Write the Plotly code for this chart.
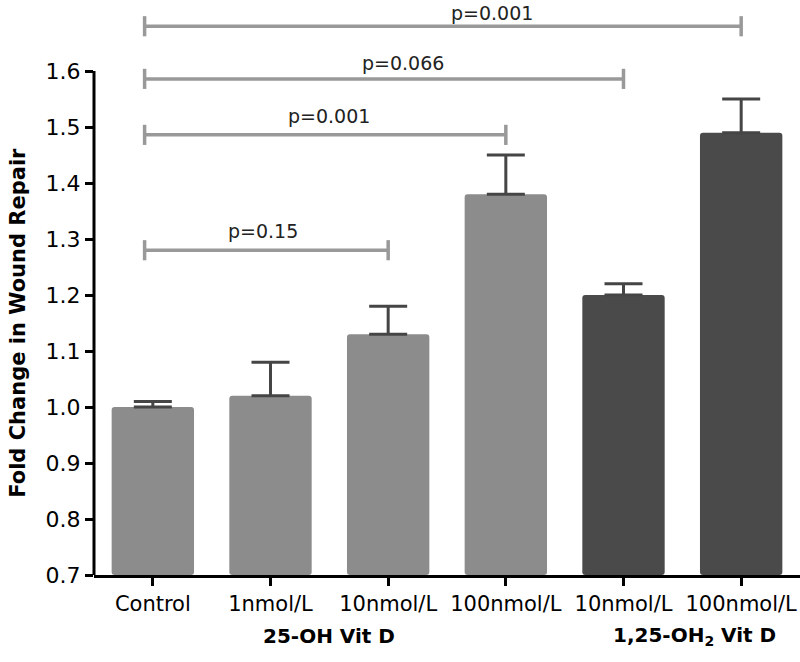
import plotly.graph_objects as go

categories = ["Control", "1nmol/L", "10nmol/L", "100nmol/L", "10nmol/L", "100nmol/L"]
fold_change = [1.00, 1.02, 1.13, 1.38, 1.20, 1.49]
sem = [0.01, 0.06, 0.05, 0.07, 0.02, 0.06]
bar_colors = ["#8c8c8c", "#8c8c8c", "#8c8c8c", "#8c8c8c", "#4a4a4a", "#4a4a4a"]

# significance brackets: start index, end index, height, label
bracket_start = [0, 0, 0, 0]
bracket_end = [5, 4, 3, 2]
bracket_y = [1.68, 1.586, 1.486, 1.28]
bracket_text = ["p=0.001", "p=0.066", "p=0.001", "p=0.15"]
text_x = [2.88, 2.13, 1.5, 0.94]
text_y = [1.703, 1.614, 1.52, 1.314]

group_labels = ["<b>25-OH Vit D</b>", "<b>1,25-OH<sub>2</sub> Vit D</b>"]
group_x = [1.5, 4.6]

xs = list(range(len(categories)))
font_family = "DejaVu Sans, Arial, sans-serif"

fig = go.Figure()
fig.add_trace(go.Bar(
    x=xs, y=[v - 0.7 for v in fold_change], base=0.7,
    width=0.7,
    marker=dict(color=bar_colors, line=dict(width=0)),
    error_y=dict(type="data", symmetric=False, array=sem, arrayminus=[0] * len(sem),
                 color="#454545", thickness=3, width=19),
    showlegend=False,
))

grey = "#999999"
tick_h = 0.018
for s, e, y, t, tx, ty in zip(bracket_start, bracket_end, bracket_y, bracket_text, text_x, text_y):
    x0 = s - 0.07
    fig.add_shape(type="line", x0=x0, x1=e, y0=y, y1=y, line=dict(color=grey, width=3.5))
    fig.add_shape(type="line", x0=x0, x1=x0, y0=y - tick_h, y1=y + tick_h, line=dict(color=grey, width=3.5))
    fig.add_shape(type="line", x0=e, x1=e, y0=y - tick_h, y1=y + tick_h, line=dict(color=grey, width=3.5))
    fig.add_annotation(x=tx, y=ty, text=t, showarrow=False, xanchor="center", yanchor="middle",
                       font=dict(size=19, color="#222222"))

# y axis line only from 0.7 to 1.6
fig.add_shape(type="line", xref="paper", x0=0, x1=0, y0=0.7, y1=1.6, line=dict(color="black", width=3))

for g, gx in zip(group_labels, group_x):
    fig.add_annotation(x=gx, xref="x", y=-0.108, yref="paper", text=g, showarrow=False,
                       xanchor="center", yanchor="middle", font=dict(size=20, color="black"))

fig.add_annotation(x=-0.108, xref="paper", y=1.15, yref="y", text="<b>Fold Change in Wound Repair</b>",
                   textangle=-90, showarrow=False, xanchor="center", yanchor="middle",
                   font=dict(size=21, color="black"))

fig.update_layout(
    width=800, height=662,
    margin=dict(l=94, r=0, t=10, b=87),
    plot_bgcolor="white", paper_bgcolor="white",
    font=dict(family=font_family, color="black"),
    barcornerradius=3,
    xaxis=dict(range=[-0.5, 5.5], tickvals=xs, ticktext=categories, showline=True, linecolor="black",
               linewidth=3, ticks="outside", ticklen=8, tickwidth=3, tickcolor="black",
               tickfont=dict(size=21), showgrid=False, zeroline=False, ticklabelstandoff=0),
    yaxis=dict(range=[0.7, 1.709], tickvals=[0.7, 0.8, 0.9, 1.0, 1.1, 1.2, 1.3, 1.4, 1.5, 1.6],
               tickformat=".1f", showline=False, ticks="outside", ticklen=8, tickwidth=3,
               tickcolor="black", tickfont=dict(size=22), showgrid=False, zeroline=False),
)

# drop the default page margin so the figure fills the window
fig.write_html("out.html", config={"displayModeBar": False},
               post_script="document.body.style.margin='0';")
